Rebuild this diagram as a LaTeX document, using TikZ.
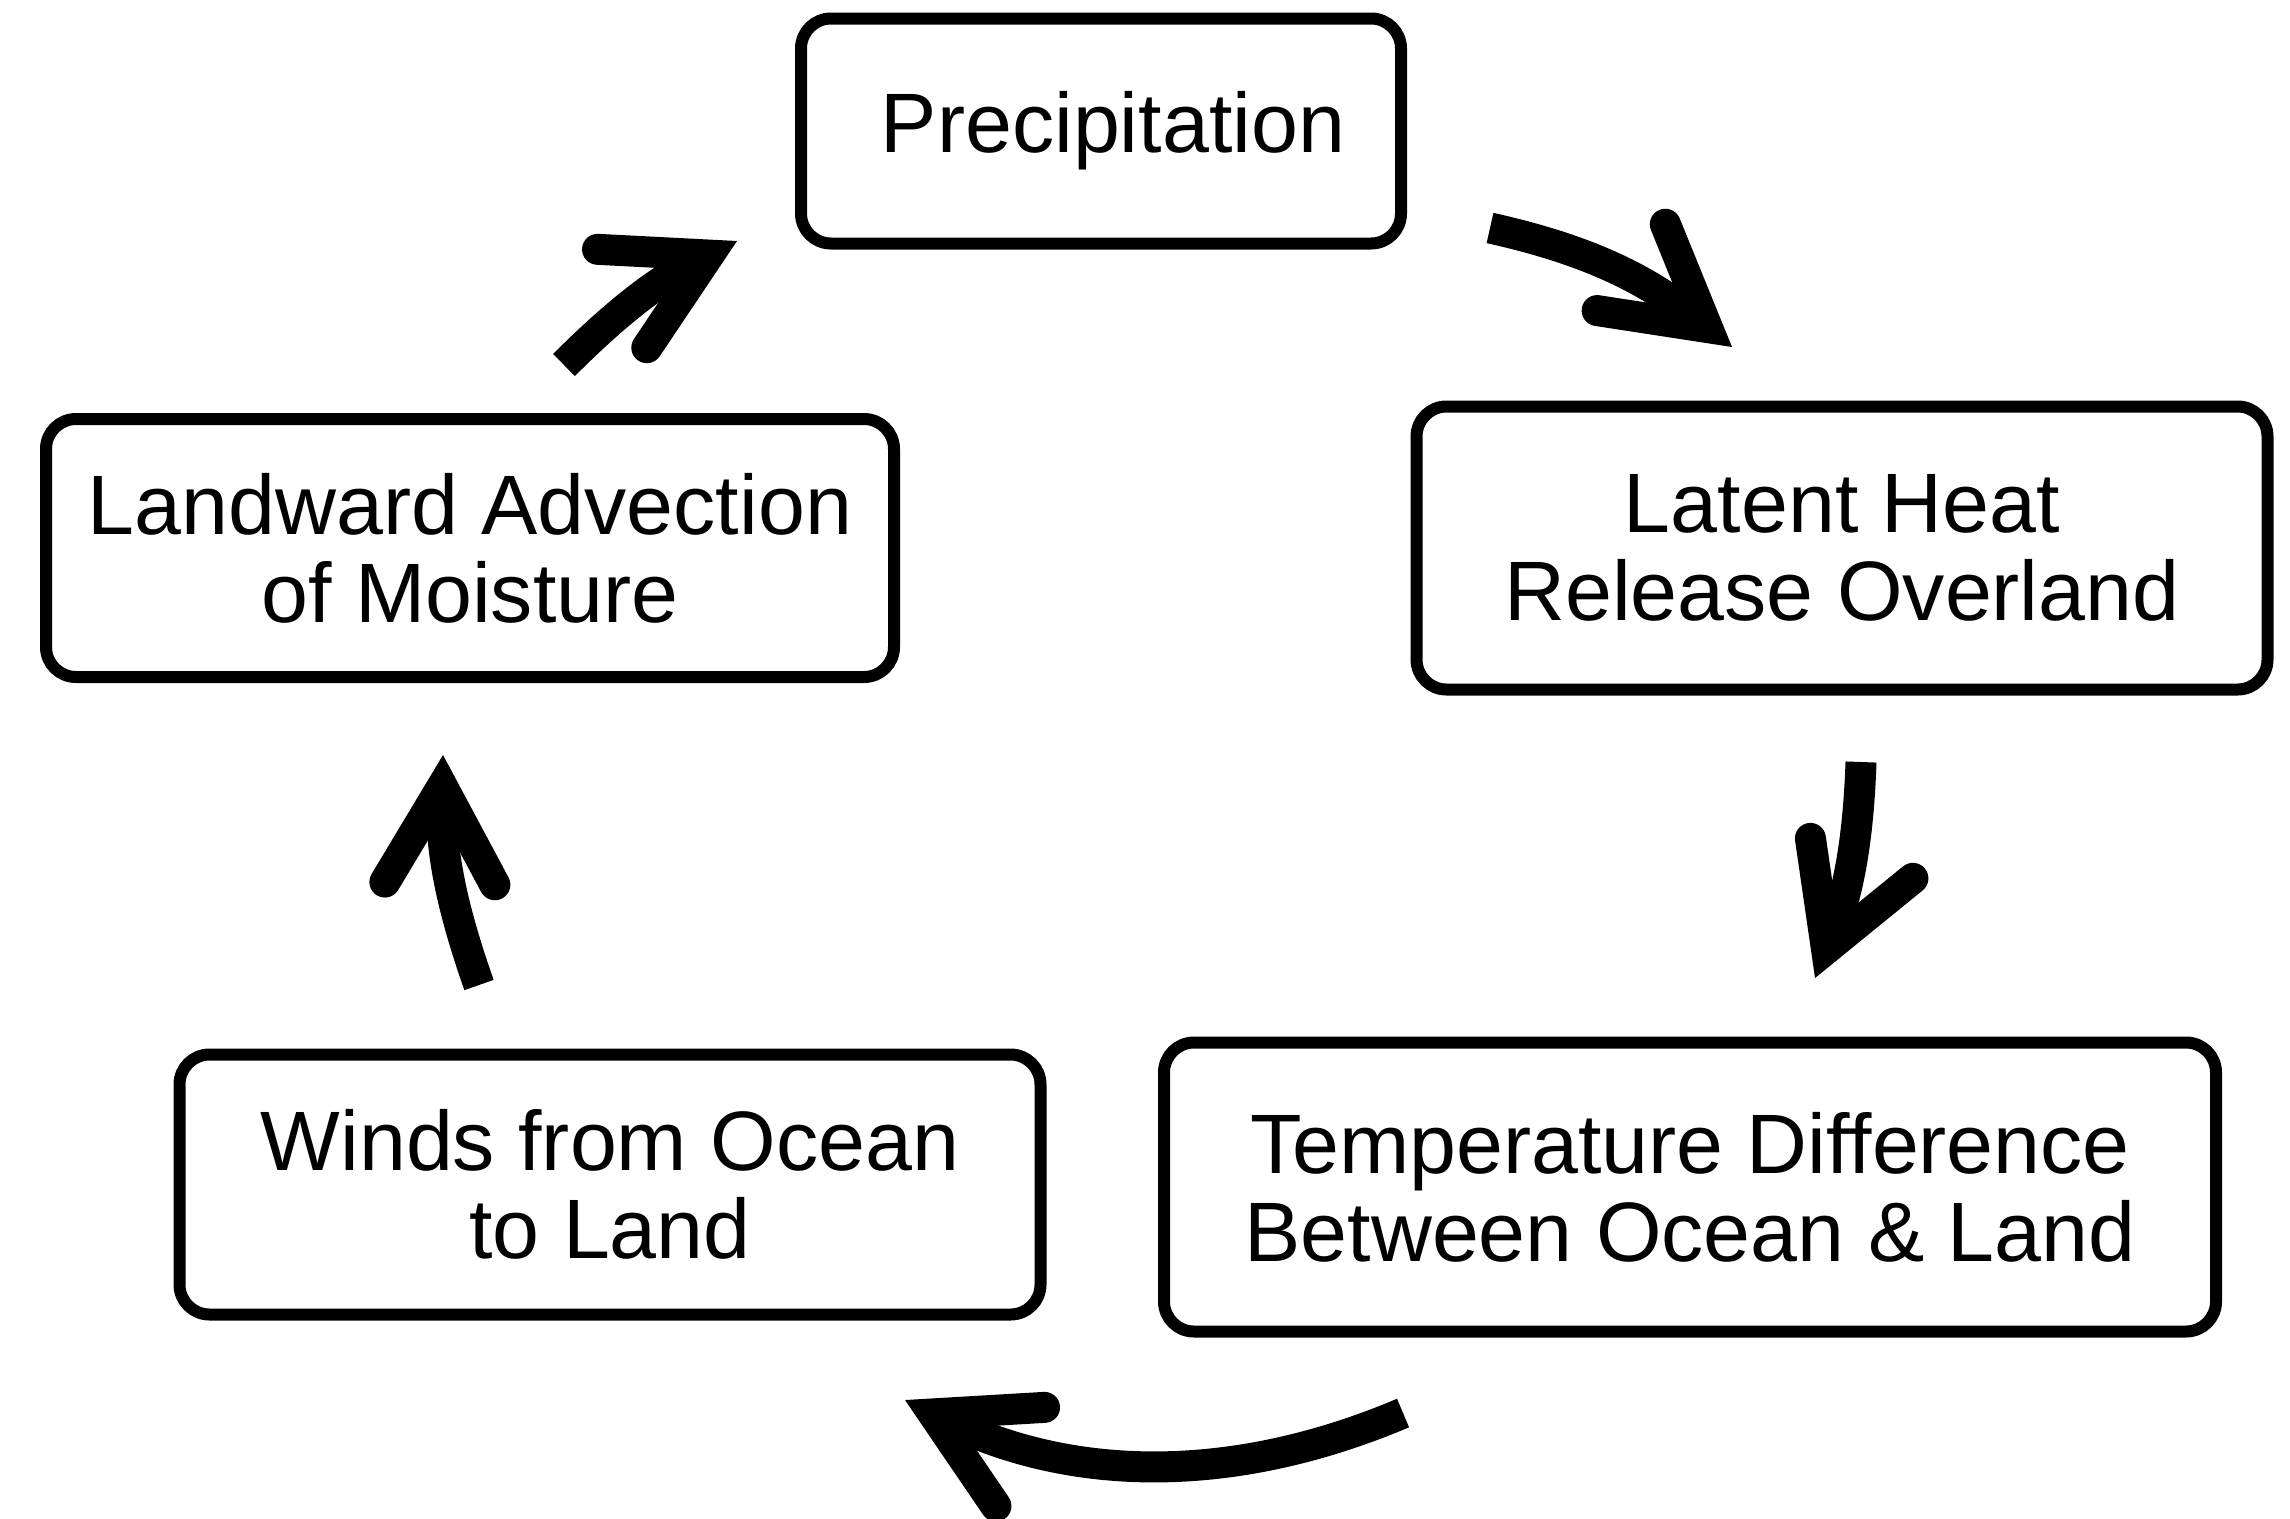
\documentclass[tikz,border=0pt]{standalone}
\usepackage{fontspec}
\setmainfont{Liberation Sans}
\usetikzlibrary{arrows.meta}

\begin{document}
\begin{tikzpicture}[
    stage/.style={draw, line width=0.12cm, rounded corners=0.3cm, align=center,
        inner sep=0pt, font=\fontsize{24}{25}\selectfont},
    cycle/.style={line width=0.31cm,
        -{Straight Barb[length=0.97cm, width=1.1cm, line cap=round, line join=miter]}}
]
    %% Background
    \useasboundingbox (0,0) rectangle (22.9,-15.18);

    %% Stages of the cycle
    \node[stage, minimum width=6.0cm, minimum height=2.25cm] (precip) at (11.01,-1.31) {\hspace*{0.24cm}Precipitation};
    \node[stage, minimum width=8.51cm, minimum height=2.83cm] (latent) at (18.42,-5.48) {Latent Heat\\Release Overland};
    \node[stage, minimum width=10.52cm, minimum height=2.89cm] (tempdiff) at (16.90,-11.87) {Temperature Difference\\Between Ocean \& Land};
    \node[stage, minimum width=8.61cm, minimum height=2.6cm] (winds) at (6.10,-11.845) {Winds from Ocean\\to Land};
    \node[stage, minimum width=8.48cm, minimum height=2.58cm] (advect) at (4.70,-5.48) {Landward Advection\\of Moisture};

    %% Arrow ends
    \coordinate (precip out) at (14.90,-2.28);
    \coordinate (latent in) at (17.32,-3.47);
    \coordinate (latent out) at (18.61,-7.62);
    \coordinate (tempdiff in) at (18.15,-9.78);
    \coordinate (tempdiff out) at (14.03,-14.13);
    \coordinate (winds in) at (9.05,-14.00);
    \coordinate (winds out) at (4.79,-9.85);
    \coordinate (advect in) at (4.43,-7.55);
    \coordinate (advect out) at (5.64,-3.65);
    \coordinate (precip in) at (7.37,-2.41);

    %% Arrows
    \draw[cycle] (precip out) to[out=-12.5, in=141.7] (latent in);
    \draw[cycle] (latent out) to[out=-92, in=68.7] (tempdiff in);
    \draw[cycle] (tempdiff out) to[out=203, in=-26.2, looseness=0.95] (winds in);
    \draw[cycle] (winds out) to[out=109.4, in=268.6] (advect in);
    \draw[cycle] (advect out) to[out=45, in=206.6] (precip in);
\end{tikzpicture}
\end{document}
